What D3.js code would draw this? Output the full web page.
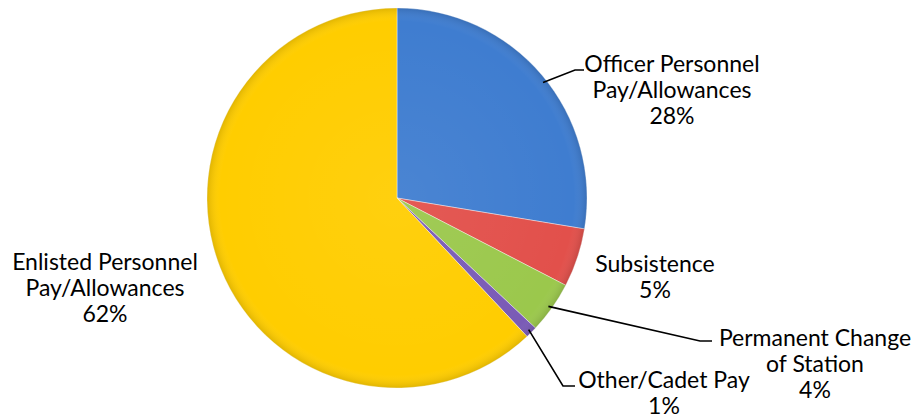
<!DOCTYPE html>
<html><head><meta charset="utf-8">
<script src="https://cdn.jsdelivr.net/npm/d3@7"></script>
<style>body{margin:0;background:#fff}svg{display:block}</style>
</head><body>
<svg id="c" width="920" height="419"></svg>
<script>
const categories = ["Officer Personnel Pay/Allowances","Subsistence","Permanent Change of Station","Other/Cadet Pay","Enlisted Personnel Pay/Allowances"];
const values = [27.6, 5.0, 4.4, 1.0, 62.0];
const colors = ["#3f7dd0","#e2504b","#9bc84c","#7a5bb6","#ffcd00"];
const labelLines = [["Officer Personnel","Pay/Allowances"],["Subsistence"],["Permanent Change","of Station"],["Other/Cadet Pay"],["Enlisted Personnel","Pay/Allowances"]];
const labelPos = [[672,72],[655,272],[815,346],[664,388],[105,270]];
const leaders = [[[0.52,0.98],[575,70],[584,70]],[],[[0.52,0.98],[700,341],[712,341]],[[0.5,0.98],[563,386],[575,386]],[]];

const svg = d3.select("#c");
const cx = 397, cy = 198, r = 190;
const total = d3.sum(values);
const pie = d3.pie().sort(null).value(d=>d)(values);
const arc = d3.arc().innerRadius(0).outerRadius(r);

const defs = svg.append("defs");
const rg = defs.append("radialGradient").attr("id","shade").attr("gradientUnits","userSpaceOnUse")
  .attr("cx",cx).attr("cy",cy).attr("r",r);
rg.append("stop").attr("offset","0%").attr("stop-color","#fff").attr("stop-opacity",0.06);
rg.append("stop").attr("offset","93%").attr("stop-color","#fff").attr("stop-opacity",0);
rg.append("stop").attr("offset","100%").attr("stop-color","#000").attr("stop-opacity",0.12);

const g = svg.append("g").attr("transform",`translate(${cx},${cy})`);
g.selectAll("path").data(pie).join("path")
  .attr("d",arc).attr("fill",(d,i)=>colors[i])
  .attr("stroke","rgba(255,255,255,0.4)").attr("stroke-width",1);
svg.append("circle").attr("cx",cx).attr("cy",cy).attr("r",r).attr("fill","url(#shade)");

// leader lines
pie.forEach((d,i)=>{
  const L = leaders[i]; if(!L.length) return;
  const a = d.startAngle + (d.endAngle-d.startAngle)*L[0][0];
  const p0 = [cx + Math.sin(a)*r*L[0][1], cy - Math.cos(a)*r*L[0][1]];
  svg.append("path").attr("d",d3.line()([p0,L[1],L[2]]))
    .attr("fill","none").attr("stroke","#000").attr("stroke-width",1.6);
});

// labels
pie.forEach((d,i)=>{
  const lines = labelLines[i].concat([Math.round(d.data/total*100)+"%"]);
  const t = svg.append("text").attr("x",labelPos[i][0]).attr("y",labelPos[i][1])
    .attr("text-anchor","middle").attr("font-family","Lato, 'Open Sans', sans-serif")
    .attr("font-size",23).attr("fill","#000");
  lines.forEach((s,k)=>t.append("tspan").attr("x",labelPos[i][0]).attr("dy",k?26:0).text(s));
});
</script>
</body></html>
